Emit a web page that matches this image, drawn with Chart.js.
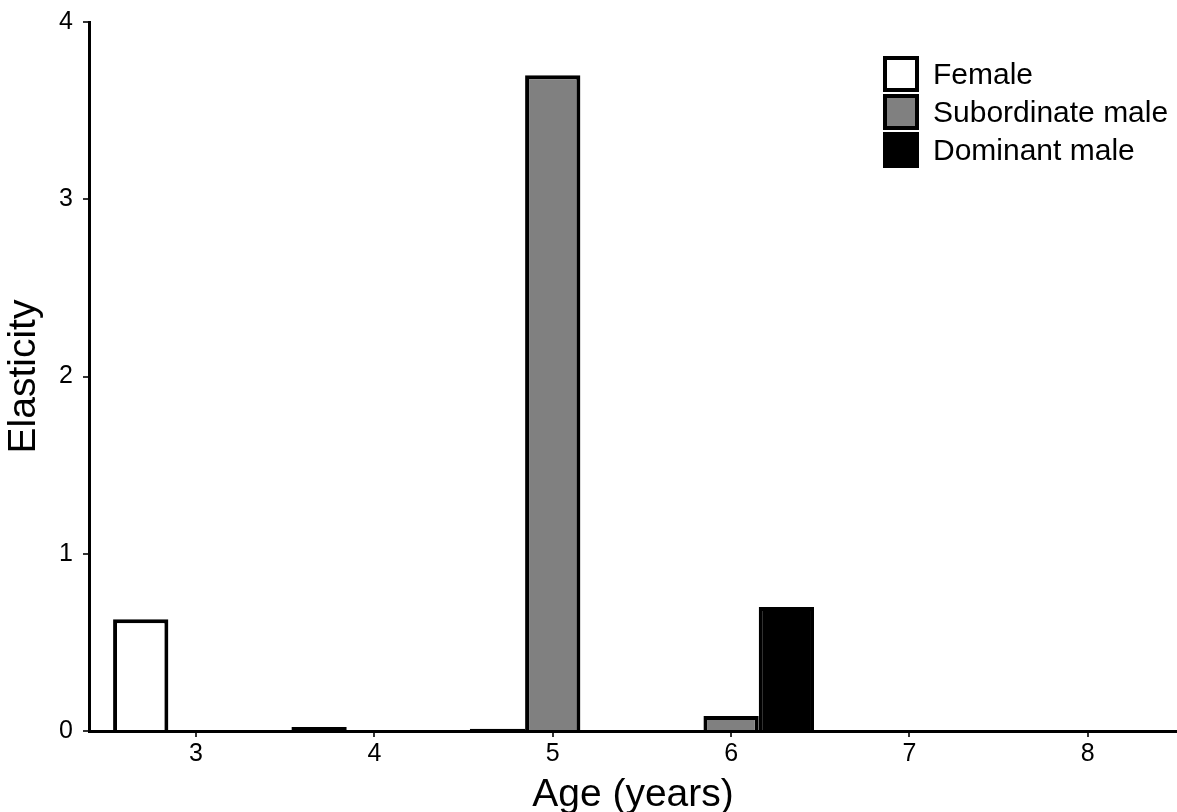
<!DOCTYPE html>
<html>
<head>
<meta charset="utf-8">
<script src="https://cdn.jsdelivr.net/npm/chart.js@4/dist/chart.umd.min.js"></script>
<style>
  html, body { margin: 0; padding: 0; background: #fff; }
  #wrap { width: 1177px; height: 812px; }
</style>
</head>
<body>
<div id="wrap"><canvas id="c" width="1177" height="812"></canvas></div>
<script>
// ---- data ----
const ages = [3, 4, 5, 6, 7, 8];
const xTickLabels = [3, 4, 5, 6, 7, 8];
const yTickLabels = [0, 1, 2, 3, 4];
const seriesNames = ['Female', 'Subordinate male', 'Dominant male'];
const female = [0.63, 0.022, 0.012, 0, 0, 0];
const subordinateMale = [0, 0, 3.7, 0.085, 0, 0];
const dominantMale = [0, 0, 0, 0.70, 0, 0];

const FONT = '"Liberation Sans", Arial, Helvetica, sans-serif';
const fills = ['#ffffff', '#808080', '#000000'];
const seriesValues = [female, subordinateMale, dominantMale];

const datasets = seriesNames.map((name, i) => ({
  label: name,
  data: ages.map((a, j) => ({ x: a, y: seriesValues[i][j] })),
  backgroundColor: fills[i],
  borderColor: '#000000',
  borderWidth: 4,
  // very thin bars are drawn fully outlined (solid line); others skip the base edge
  borderSkipped: c => (c.raw && c.raw.y < 0.05) ? false : 'start',
  categoryPercentage: 0.93,
  barPercentage: 1.0
}));

const boxLegend = {
  id: 'boxLegend',
  afterDraw(chart) {
    const ctx = chart.ctx;
    const x0 = 883, y0 = 56, w = 36, h = 36, step = 38;
    ctx.save();
    chart.data.datasets.forEach((ds, i) => {
      const y = y0 + i * step;
      ctx.fillStyle = ds.backgroundColor;
      ctx.fillRect(x0, y, w, h);
      ctx.lineWidth = 4;
      ctx.strokeStyle = '#000';
      ctx.strokeRect(x0 + 2, y + 2, w - 4, h - 4);
      ctx.fillStyle = '#000';
      ctx.font = '30px ' + FONT;
      ctx.textBaseline = 'middle';
      ctx.textAlign = 'left';
      ctx.fillText(ds.label, x0 + 50, y + h / 2 + 2);
    });
    ctx.restore();
  }
};

new Chart(document.getElementById('c'), {
  type: 'bar',
  data: { datasets },
  plugins: [boxLegend],
  options: {
    responsive: false,
    devicePixelRatio: 1,
    animation: false,
    layout: { padding: { top: 22, right: 0, left: 0, bottom: 0 } },
    plugins: { legend: { display: false }, tooltip: { enabled: false } },
    scales: {
      x: {
        type: 'linear',
        min: 2.4,
        max: 8.5,
        offset: false,
        afterBuildTicks: s => { s.ticks = xTickLabels.map(v => ({ value: v })); },
        afterFit: s => { s.height = 81; },
        border: { display: true, color: '#000', width: 3 },
        grid: { offset: false, drawOnChartArea: false, drawTicks: true, tickLength: 6, color: '#333', lineWidth: 2 },
        ticks: { color: '#000', font: { size: 25, family: FONT }, padding: 2, maxRotation: 0, callback: v => String(v) },
        title: { display: true, text: 'Age (years)', color: '#000', font: { size: 39, family: FONT, lineHeight: 1 }, padding: { top: 0, bottom: -3 } }
      },
      y: {
        min: 0,
        max: 4,
        afterBuildTicks: s => { s.ticks = yTickLabels.map(v => ({ value: v })); },
        afterFit: s => { s.width = 89; },
        border: { display: true, color: '#000', width: 3 },
        grid: { drawOnChartArea: false, drawTicks: true, tickLength: 6, color: '#333', lineWidth: 2 },
        ticks: { color: '#000', font: { size: 25, family: FONT, lineHeight: 0.9 }, padding: 10, callback: v => String(v) },
        title: { display: true, text: 'Elasticity', color: '#000', font: { size: 39, family: FONT, lineHeight: 1.2 }, padding: { top: 1, bottom: 0 } }
      }
    }
  }
});
</script>
</body>
</html>
